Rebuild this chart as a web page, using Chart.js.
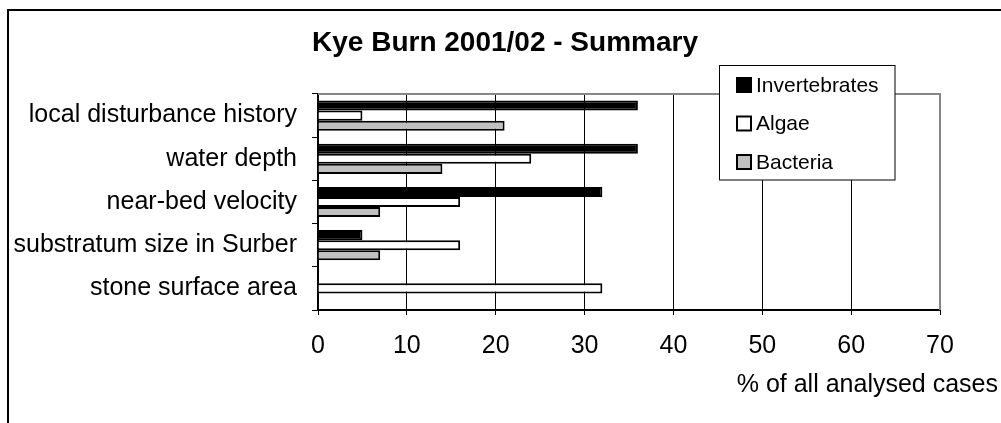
<!DOCTYPE html>
<html>
<head>
<meta charset="utf-8">
<script src="https://cdn.jsdelivr.net/npm/chart.js@4"></script>
<style>
  html, body { margin: 0; padding: 0; background: #fff; }
  #wrap { width: 1001px; height: 423px; }
</style>
</head>
<body>
<div id="wrap"><canvas id="summaryChart" width="1001" height="423"></canvas></div>
<script>
const factors = ['local disturbance history', 'water depth', 'near-bed velocity', 'substratum size in Surber', 'stone surface area'];
const invertebrates = [36, 36, 32, 5, 0];
const algae = [5, 24, 16, 16, 32];
const bacteria = [21, 14, 7, 7, 0];
const xTicks = [0, 10, 20, 30, 40, 50, 60, 70];

const FONT = '"Liberation Sans", Arial, sans-serif';

// frame, plot border, floating legend and axis title like the Excel original
const excelBits = {
    id: 'excelBits',
    beforeDraw(chart) {
        const c = chart.ctx;
        c.save();
        c.fillStyle = '#fff';
        c.fillRect(0, 0, chart.width, chart.height);
        c.strokeStyle = '#000';
        c.lineWidth = 2;
        c.strokeRect(8, 10, 1200, 600);
        c.restore();
    },
    afterDatasetsDraw(chart) {
        const c = chart.ctx;
        const a = chart.chartArea;
        c.save();
        c.strokeStyle = '#868686';
        c.lineWidth = 2;
        c.beginPath();
        c.moveTo(a.left, a.top);
        c.lineTo(a.right, a.top);
        c.lineTo(a.right, a.bottom);
        c.stroke();
        c.restore();
    },
    afterDraw(chart) {
        const c = chart.ctx;
        c.save();
        // legend box
        c.fillStyle = '#fff';
        c.fillRect(719.5, 65.5, 175.5, 114.5);
        c.strokeStyle = '#000';
        c.lineWidth = 1;
        c.strokeRect(719.5, 65.5, 175.5, 114.5);
        c.font = '21px ' + FONT;
        c.textBaseline = 'middle';
        c.textAlign = 'left';
        chart.data.datasets.forEach((ds, i) => {
            const cy = 85 + i * 38.5;
            c.fillStyle = ds.backgroundColor;
            c.fillRect(737, cy - 7, 14, 14);
            c.strokeStyle = '#000';
            c.lineWidth = 2;
            c.strokeRect(737, cy - 7, 14, 14);
            c.fillStyle = '#000';
            c.fillText(ds.label, 756, cy + 1);
        });
        // x axis title
        c.font = '25px ' + FONT;
        c.textAlign = 'right';
        c.fillText('% of all analysed cases', 998, 385);
        c.restore();
    }
};

new Chart(document.getElementById('summaryChart'), {
    type: 'bar',
    data: {
        labels: factors,
        datasets: [
            { label: 'Invertebrates', data: invertebrates, backgroundColor: '#000000', borderColor: '#000', borderWidth: 2 },
            { label: 'Algae', data: algae, backgroundColor: '#ffffff', borderColor: '#000', borderWidth: 2 },
            { label: 'Bacteria', data: bacteria, backgroundColor: '#c0c0c0', borderColor: '#000', borderWidth: 2 }
        ]
    },
    options: {
        indexAxis: 'y',
        responsive: false,
        animation: false,
        devicePixelRatio: 1,
        categoryPercentage: 0.7,
        barPercentage: 1.0,
        layout: { padding: { left: 9, right: 0, top: 0, bottom: 0 } },
        plugins: {
            legend: { display: false },
            tooltip: { enabled: false },
            title: {
                display: true,
                text: 'Kye Burn 2001/02 - Summary',
                color: '#000',
                font: { family: FONT, size: 28, weight: 'bold' },
                padding: { top: 26, bottom: 34.4 }
            }
        },
        scales: {
            x: {
                min: 0,
                max: 70,
                afterBuildTicks: scale => { scale.ticks = xTicks.map(v => ({ value: v })); },
                afterFit: scale => { scale.height = 113; },
                grid: {
                    color: ctx => (ctx.tick && ctx.tick.value === 70 ? '#868686' : '#000'),
                    lineWidth: 1,
                    tickLength: 5,
                    tickColor: '#000'
                },
                border: { color: '#000', width: 2 },
                ticks: {
                    color: '#000',
                    font: { family: FONT, size: 25 },
                    padding: 16,
                    maxRotation: 0
                }
            },
            y: {
                afterFit: scale => { scale.width = 309; },
                grid: {
                    drawOnChartArea: false,
                    tickLength: 6,
                    color: '#000',
                    offset: true
                },
                border: { color: '#000', width: 2 },
                ticks: {
                    color: '#000',
                    font: { family: FONT, size: 25 },
                    padding: 15,
                    autoSkip: false
                }
            },
            // empty right-hand box that keeps the plot at the Excel width
            spacer: {
                type: 'linear',
                position: 'right',
                afterFit: scale => { scale.width = 61; },
                grid: { display: false },
                border: { display: false },
                ticks: { display: false }
            }
        }
    },
    plugins: [excelBits]
});
</script>
</body>
</html>
